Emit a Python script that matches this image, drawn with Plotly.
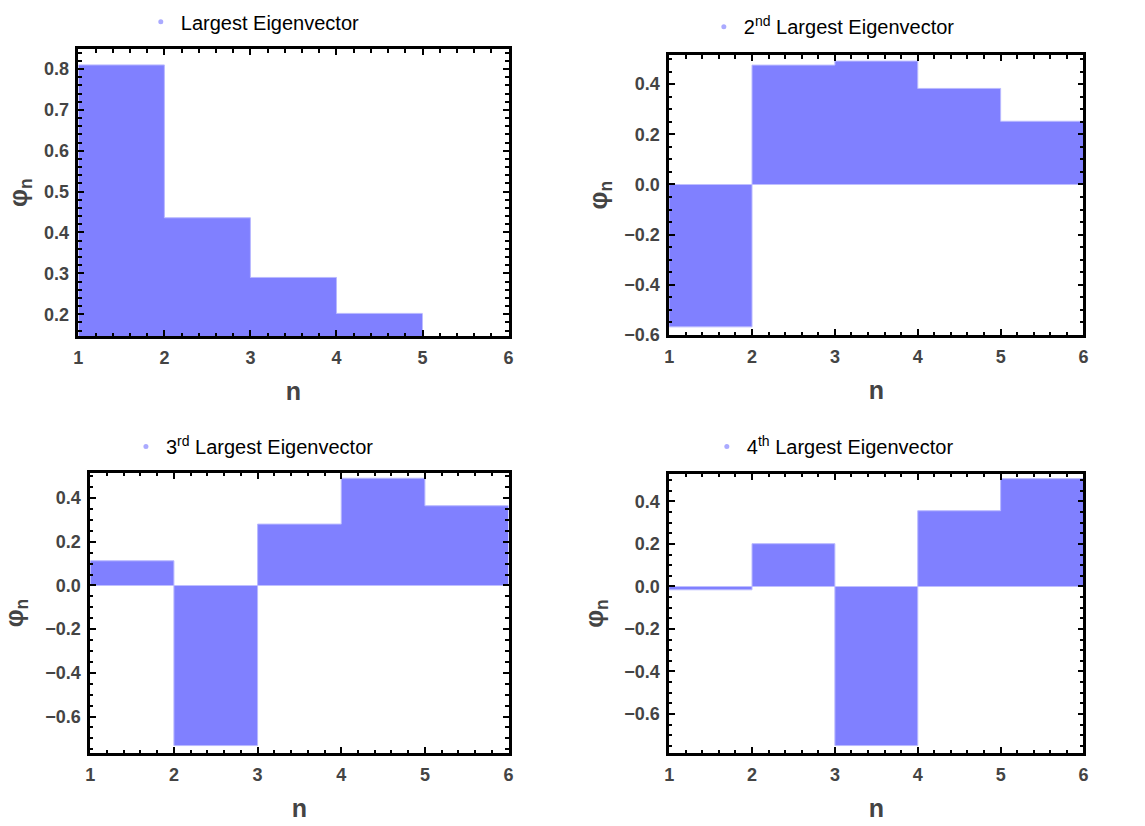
import plotly.graph_objects as go

n_edges = [1, 2, 3, 4, 5, 6]

titles = [
    "Largest Eigenvector",
    "2<sup>nd</sup> Largest Eigenvector",
    "3<sup>rd</sup> Largest Eigenvector",
    "4<sup>th</sup> Largest Eigenvector",
]
# step values phi_n for n = 1..5 (panel 1 last step lies below the visible range)
phi1 = [0.81, 0.436, 0.290, 0.202]
phi2 = [-0.568, 0.476, 0.492, 0.383, 0.252]
phi3 = [0.113, -0.733, 0.281, 0.491, 0.365]
phi4 = [-0.016, 0.201, -0.749, 0.356, 0.507]
series = [phi1, phi2, phi3, phi4]

y_ranges = [[0.147, 0.848], [-0.6, 0.515], [-0.766, 0.514], [-0.783, 0.528]]
y_dticks = [0.1, 0.2, 0.2, 0.2]
y_minor = [0.02, 0.05, 0.05, 0.05]

W, H = 1145, 826
# panel frames in pixels: (left, right, top, bottom)
frames = [(74, 508, 50, 340), (670, 1088, 56, 339), (86, 508, 479, 762), (670, 1088, 480, 762)]
legend_pos = [(137, 22), (705, 27), (122, 452), (708, 452)]
ytitle_standoff = [10, 10, 18, 14]

fill_col = "rgb(128,128,255)"
edge_col = "rgb(185,185,255)"
dot_col = "rgb(170,170,255)"
tick_font = dict(family="Liberation Sans, Arial", size=18, color="#444444", weight="bold")
title_font = dict(family="Liberation Sans, Arial", size=25, color="#444444")

fig = go.Figure()
layout = dict(width=W, height=H, margin=dict(l=0, r=0, t=0, b=0),
              paper_bgcolor="white", plot_bgcolor="white", showlegend=True)

for i, vals in enumerate(series):
    xs = n_edges[:len(vals) + 1]
    ys = vals + [vals[-1]]
    ax = "" if i == 0 else str(i + 1)
    leg = "legend" if i == 0 else "legend%d" % (i + 1)
    fig.add_trace(go.Scatter(x=xs, y=ys, mode="lines", line_shape="hv",
                             fill="tozeroy", fillcolor=fill_col,
                             line=dict(color=edge_col, width=1),
                             xaxis="x" + ax, yaxis="y" + ax,
                             showlegend=False, hoverinfo="skip"))
    fig.add_trace(go.Scatter(x=[None], y=[None], mode="markers",
                             marker=dict(size=5, color=dot_col),
                             name=titles[i], xaxis="x" + ax, yaxis="y" + ax,
                             legend=leg, showlegend=True))
    l, r, t, b = frames[i]
    common = dict(showline=True, linecolor="black", linewidth=2.5, mirror="ticks",
                  ticks="inside", ticklen=6, tickwidth=1.8, tickcolor="black",
                  showgrid=False, zeroline=False, tickfont=tick_font,
                  title_font=title_font)
    layout["xaxis" + ax] = dict(common, domain=[l / W, r / W], range=[1, 6],
                                anchor="y" + ax, tick0=1, dtick=1,
                                ticklabelstandoff=4,
                                minor=dict(dtick=0.2, ticklen=3.5, tickwidth=1.8,
                                           tickcolor="black", ticks="inside"),
                                title=dict(text="<b>n</b>", standoff=16))
    layout["yaxis" + ax] = dict(common, domain=[1 - b / H, 1 - t / H], range=y_ranges[i],
                                anchor="x" + ax, tick0=0, dtick=y_dticks[i],
                                tickformat=".1f", ticklabelstandoff=3,
                                minor=dict(dtick=y_minor[i], ticklen=3.5, tickwidth=1.8,
                                           tickcolor="black", ticks="inside"),
                                title=dict(text="<b>φ<sub>n</sub></b>", standoff=ytitle_standoff[i]))
    lx, ly = legend_pos[i]
    layout[leg] = dict(x=lx / W, y=1 - ly / H, xanchor="left", yanchor="middle",
                       bgcolor="rgba(0,0,0,0)", borderwidth=0,
                       font=dict(family="Liberation Sans, Arial", size=20, color="black"))

fig.update_layout(**layout)
fig.write_html("out.html")
